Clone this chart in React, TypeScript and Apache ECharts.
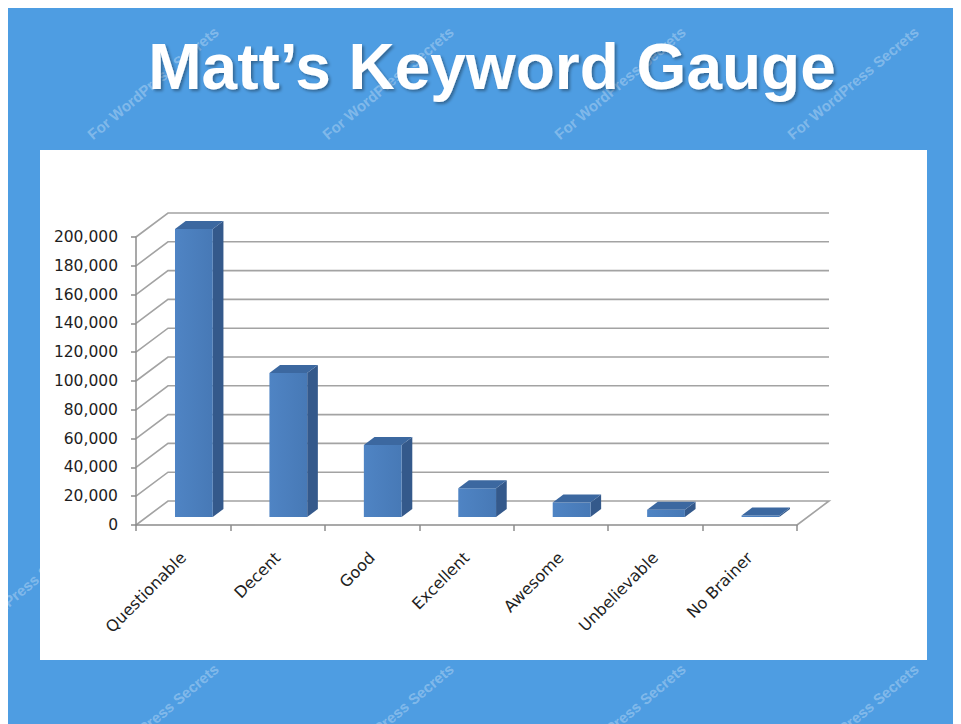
import React, { useEffect, useRef } from "react";
import * as echarts from "echarts";

const categories = ["Questionable", "Decent", "Good", "Excellent", "Awesome", "Unbelievable", "No Brainer"];
const keywordCounts = [200000, 100000, 50000, 20000, 10000, 5000, 1000];
const yTicks = [0, 20000, 40000, 60000, 80000, 100000, 120000, 140000, 160000, 180000, 200000];
const titleText = "Matt\u2019s Keyword Gauge";
const watermarkText = "For WordPress Secrets";

// depth of the 3D box (pixels)
const DX = 32;
const DY = -24;

export default function App() {
  const ref = useRef<HTMLDivElement>(null);
  useEffect(() => {
    document.documentElement.style.overflow = "hidden";
    const chart = echarts.init(ref.current!, null, { renderer: "svg" });

    const wmCenters = [
      [145, 75], [380, 75], [612, 75], [845, 75],
      [145, 712], [380, 712], [612, 712], [845, 712],
      [10, 585],
    ];
    const watermarks = wmCenters.map(([x, y]) => ({
      type: "text",
      x,
      y,
      rotation: (40 * Math.PI) / 180,
      z: 0,
      style: {
        text: watermarkText,
        fill: "rgba(255,255,255,0.3)",
        font: "bold 15px 'Liberation Sans', Arial, sans-serif",
        textAlign: "center",
        textVerticalAlign: "middle",
      },
    }));

    const option: any = {
      animation: false,
      backgroundColor: "#4e9de2",
      graphic: [
        ...watermarks,
        {
          type: "rect",
          z: 1,
          shape: { x: 32, y: 142, width: 887, height: 510 },
          style: { fill: "#ffffff" },
        },
        {
          type: "text",
          x: 484,
          y: 59,
          z: 2,
          style: {
            text: titleText,
            fill: "#ffffff",
            font: "bold 64px 'Liberation Sans', Arial, sans-serif",
            textAlign: "center",
            textVerticalAlign: "middle",
            textShadowColor: "rgba(0,0,0,0.35)",
            textShadowOffsetX: 2,
            textShadowOffsetY: 2,
            textShadowBlur: 3,
          },
        },
      ],
      grid: { left: 128, top: 229, width: 661, height: 288, z: 5 },
      xAxis: {
        type: "category",
        z: 6,
        data: categories,
        boundaryGap: true,
        axisLine: { show: true, lineStyle: { color: "#8c8c8c", width: 1.5 } },
        axisTick: { show: true, length: 6, lineStyle: { color: "#8c8c8c", width: 1.5 } },
        axisLabel: {
          rotate: 45,
          margin: 30,
          fontSize: 16,
          fontFamily: "'DejaVu Sans', Verdana, sans-serif",
          color: "#1e1e1e",
          interval: 0,
        },
        splitLine: { show: false },
      },
      yAxis: {
        type: "value",
        z: 6,
        min: 0,
        max: 200000,
        interval: 20000,
        axisLine: { show: true, lineStyle: { color: "#8c8c8c", width: 1.5 } },
        axisTick: { show: true, length: 5, lineStyle: { color: "#8c8c8c", width: 1.5 } },
        axisLabel: {
          margin: 18,
          fontSize: 15.5,
          fontFamily: "'DejaVu Sans', Verdana, sans-serif",
          color: "#1e1e1e",
          formatter: (v: number) => v.toLocaleString("en-US"),
        },
        splitLine: { show: false },
      },
      series: [
        {
          type: "custom",
          z: 5,
          clip: false,
          silent: true,
          data: yTicks.map((v) => [0, v]),
          renderItem: (params: any, api: any) => {
            const cs = params.coordSys;
            const left = cs.x;
            const right = cs.x + cs.width;
            const v = api.value(1);
            const y = api.coord([0, v])[1];
            const pts =
              v === 0
                ? [[left, y], [left + DX, y + DY], [right + DX, y + DY], [right, y]]
                : [[left, y], [left + DX, y + DY], [right + DX, y + DY]];
            return {
              type: "polyline",
              shape: { points: pts },
              style: { stroke: "#a3a3a3", lineWidth: 1.6, fill: "none" },
            };
          },
        },
        {
          type: "custom",
          z: 7,
          clip: false,
          data: keywordCounts.map((v, i) => [i, v]),
          renderItem: (params: any, api: any) => {
            const i = api.value(0);
            const v = api.value(1);
            const top = api.coord([i, v]);
            const base = api.coord([i, 0]);
            const band = api.size([1, 0])[0];
            const w = band * 0.4;
            const ox = DX / 3;
            const oy = DY / 3;
            const x0 = top[0] - w / 2 + ox;
            const yT = top[1] + oy;
            const yB = base[1] + oy;
            return {
              type: "group",
              children: [
                {
                  type: "polygon",
                  shape: {
                    points: [
                      [x0 + w, yT],
                      [x0 + w + ox, yT + oy],
                      [x0 + w + ox, yB + oy],
                      [x0 + w, yB],
                    ],
                  },
                  style: { fill: "#34598b" },
                },
                {
                  type: "rect",
                  shape: { x: x0, y: yT, width: w, height: Math.max(yB - yT, 0.5) },
                  style: {
                    fill: new echarts.graphic.LinearGradient(0, 0, 1, 0, [
                      { offset: 0, color: "#4f84c4" },
                      { offset: 1, color: "#4779b6" },
                    ]),
                  },
                },
                {
                  type: "polygon",
                  shape: {
                    points: [
                      [x0, yT],
                      [x0 + ox, yT + oy],
                      [x0 + w + ox, yT + oy],
                      [x0 + w, yT],
                    ],
                  },
                  style: { fill: "#3c68a0" },
                },
              ],
            };
          },
        },
      ],
    };
    chart.setOption(option);
    return () => chart.dispose();
  }, []);
  return <div ref={ref} style={{ width: 953, height: 716 }} />;
}
